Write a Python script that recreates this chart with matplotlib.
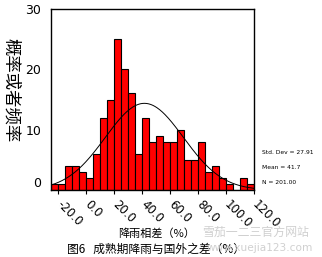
import numpy as np
import matplotlib
matplotlib.use("Agg")
import matplotlib.pyplot as plt
from matplotlib.transforms import ScaledTranslation

plt.rcParams["font.family"] = ["Noto Sans CJK SC", "DejaVu Sans"]

# histogram data (bins of width 5 starting at -25)
bin_start = -25
bin_width = 5
counts = [1, 1, 4, 4, 3, 2, 6, 12, 15, 25, 20, 16, 6, 12, 8,
          9, 8, 8, 10, 5, 5, 8, 3, 4, 2, 1, 0, 2, 1]
std_dev = 27.91
mean = 41.7
n_total = 201.00

xticks = [-20, 0, 20, 40, 60, 80, 100, 120]
yticks = [0, 10, 20, 30]

edges = bin_start + bin_width * np.arange(len(counts) + 1)

fig = plt.figure(figsize=(3.22, 2.57), dpi=100)
ax = fig.add_axes([51 / 322, 1 - 190 / 257, 203 / 322, 181 / 257])

ax.bar(edges[:-1], counts, width=bin_width, align="edge",
       color="#ff0000", edgecolor="black", linewidth=0.8)

# fitted normal curve
xs = np.linspace(edges[0], edges[-1], 300)
ys = n_total * bin_width / (std_dev * np.sqrt(2 * np.pi)) * np.exp(-0.5 * ((xs - mean) / std_dev) ** 2)
ax.plot(xs, ys, color="black", lw=0.7)

ax.set_xlim(edges[0], edges[-1])
ax.set_ylim(0, 30)
for s in ax.spines.values():
    s.set_linewidth(1.0)

ax.set_yticks(yticks)
ax.set_yticklabels([str(t) for t in yticks], fontsize=9, family="DejaVu Sans")
ax.tick_params(axis="y", length=0, pad=7)
ax.get_yticklabels()[0].set_va("bottom")

ax.set_xticks(xticks)
ax.set_xticklabels([f"{t:.1f}" for t in xticks], fontsize=8.5, family="DejaVu Sans",
                   rotation=-45, ha="left", va="top", rotation_mode="anchor")
ax.tick_params(axis="x", length=3, width=0.8, pad=3)
shift = ScaledTranslation(5 / 100, 0, fig.dpi_scale_trans)
for lab in ax.get_xticklabels():
    lab.set_transform(lab.get_transform() + shift)

ax.set_ylabel("概率或者频率", fontsize=12.5, rotation=270, labelpad=0)
ax.yaxis.set_label_coords(-0.24, 0.55)

fig.text(157 / 322, 1 - 234 / 257, "降雨相差（%）", fontsize=8, ha="center", va="center")
fig.text(156 / 322, 1 - 249 / 257, "图6   成熟期降雨与国外之差（%）", fontsize=8.5,
         ha="center", va="center")

# watermark
fig.text(256 / 322, 1 - 232 / 257, "雪茄一二三官方网站", fontsize=8.6, color="#d0d0d0",
         ha="center", va="center")
fig.text(260 / 322, 1 - 248 / 257, "www.xuejia123.com", fontsize=7.6, color="#d0d0d0",
         ha="center", va="center", family="DejaVu Sans")

# stats box
for i, s in enumerate([f"Std. Dev = {std_dev:.2f}", f"Mean = {mean}", f"N = {n_total:.2f}"]):
    fig.text(262 / 322, 1 - (153 + 14.5 * i) / 257, s, fontsize=4.3,
             family="DejaVu Sans", ha="left", va="center")

fig.savefig("out.png", dpi=100, facecolor="white")
